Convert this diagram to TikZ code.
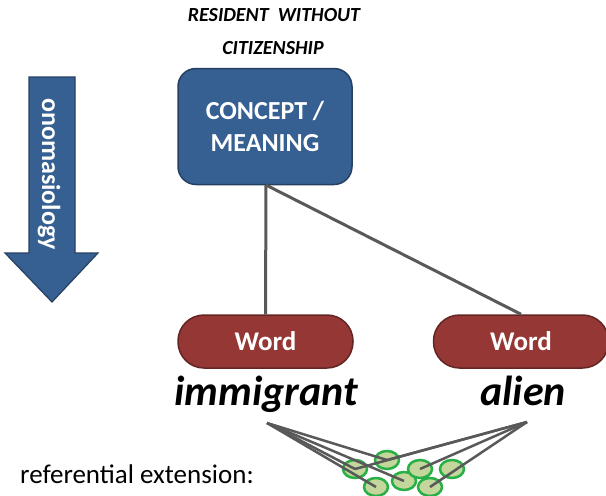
\documentclass[tikz,border=0pt]{standalone}
\usepackage{fontspec}
\setmainfont{Carlito}
\usetikzlibrary{shapes.geometric}
\definecolor{conceptfill}{RGB}{55,96,146}
\definecolor{conceptline}{RGB}{37,64,97}
\definecolor{wordfill}{RGB}{149,55,53}
\definecolor{wordline}{RGB}{99,37,35}
\definecolor{linkgray}{RGB}{89,89,89}
\definecolor{reffill}{RGB}{195,214,155}
\definecolor{refline}{RGB}{40,175,70}
\tikzset{
  concept/.style={draw=conceptline, line width=1.5pt, fill=conceptfill, rounded corners=18pt,
    minimum width=174pt, minimum height=116pt, text=white, align=center,
    font=\fontsize{26}{32}\selectfont\bfseries},
  wordpill/.style={draw=wordline, line width=1.5pt, fill=wordfill, rounded corners=26pt,
    minimum width=175pt, minimum height=53pt, text=white,
    font=\fontsize{27}{30}\selectfont\bfseries},
  lexeme/.style={font=\fontsize{42}{46}\selectfont\bfseries\itshape, inner sep=0pt, anchor=base},
  caption/.style={font=\fontsize{20}{24}\selectfont\bfseries\itshape, inner sep=0pt, anchor=base},
  link/.style={draw=linkgray, line width=3pt},
  thinlink/.style={draw=linkgray, line width=2.5pt},
  referent/.style={ellipse, draw=refline, line width=2.5pt, fill=reffill,
    minimum width=24pt, minimum height=18pt, inner sep=0pt},
}
\begin{document}
\begin{tikzpicture}[x=1pt,y=-1pt]
\useasboundingbox (0,0) rectangle (606,496);

% concept label above the box
\node[caption] (lab1) at (274,21.5) {RESIDENT\ \ WITHOUT};
\node[caption] (lab2) at (273,54) {CITIZENSHIP};

% onomasiology arrow
\path[draw=conceptline, line width=1.2pt, fill=conceptfill]
  (29,77) -- (75,77) -- (75,253) -- (98,253) -- (52,302) -- (5,253) -- (29,253) -- cycle;
\node[rotate=-90, anchor=base west, inner sep=0pt, text=white,
  font=\fontsize{26}{30}\selectfont\bfseries] (ono) at (42,98) {onomasiology};

% concept and words
\node[concept] (concept) at (265,126.5) {CONCEPT /\\MEANING};
\node[wordpill] (w1) at (265.5,341.5) {Word};
\node[wordpill] (w2) at (521,341.5) {Word};
\coordinate (cj) at (266,185);
\draw[link] (cj) -- (w1.north);
\draw[link] (cj) -- (w2.north);

\node[lexeme] (imm) at (266,405) {immigrant};
\node[lexeme] (ali) at (523,405) {alien};

% referential extension
\node[anchor=base west, font=\fontsize{27}{30}\selectfont, inner sep=0pt] (ref) at (20,483) {referential extension:};

\coordinate (pl) at (267,423);
\coordinate (pr) at (527,422);
\node[referent] (r1) at (355,469) {};
\node[referent] (r2) at (387,460) {};
\node[referent] (r3) at (376,487) {};
\node[referent] (r4) at (404,481) {};
\node[referent] (r5) at (420,469) {};
\node[referent] (r6) at (430,487) {};
\node[referent] (r7) at (452,469) {};
\draw[thinlink] (pl) -- (r2.center);
\draw[thinlink] (pl) -- (r1.center);
\draw[thinlink] (pl) -- (r4.center);
\draw[thinlink] (pl) -- (r3.center);
\draw[thinlink] (pr) -- (r2.center);
\draw[thinlink] (pr) -- (r1.center);
\draw[thinlink] (pr) -- (r5.center);
\draw[thinlink] (pr) -- (r6.center);
\end{tikzpicture}
\end{document}
